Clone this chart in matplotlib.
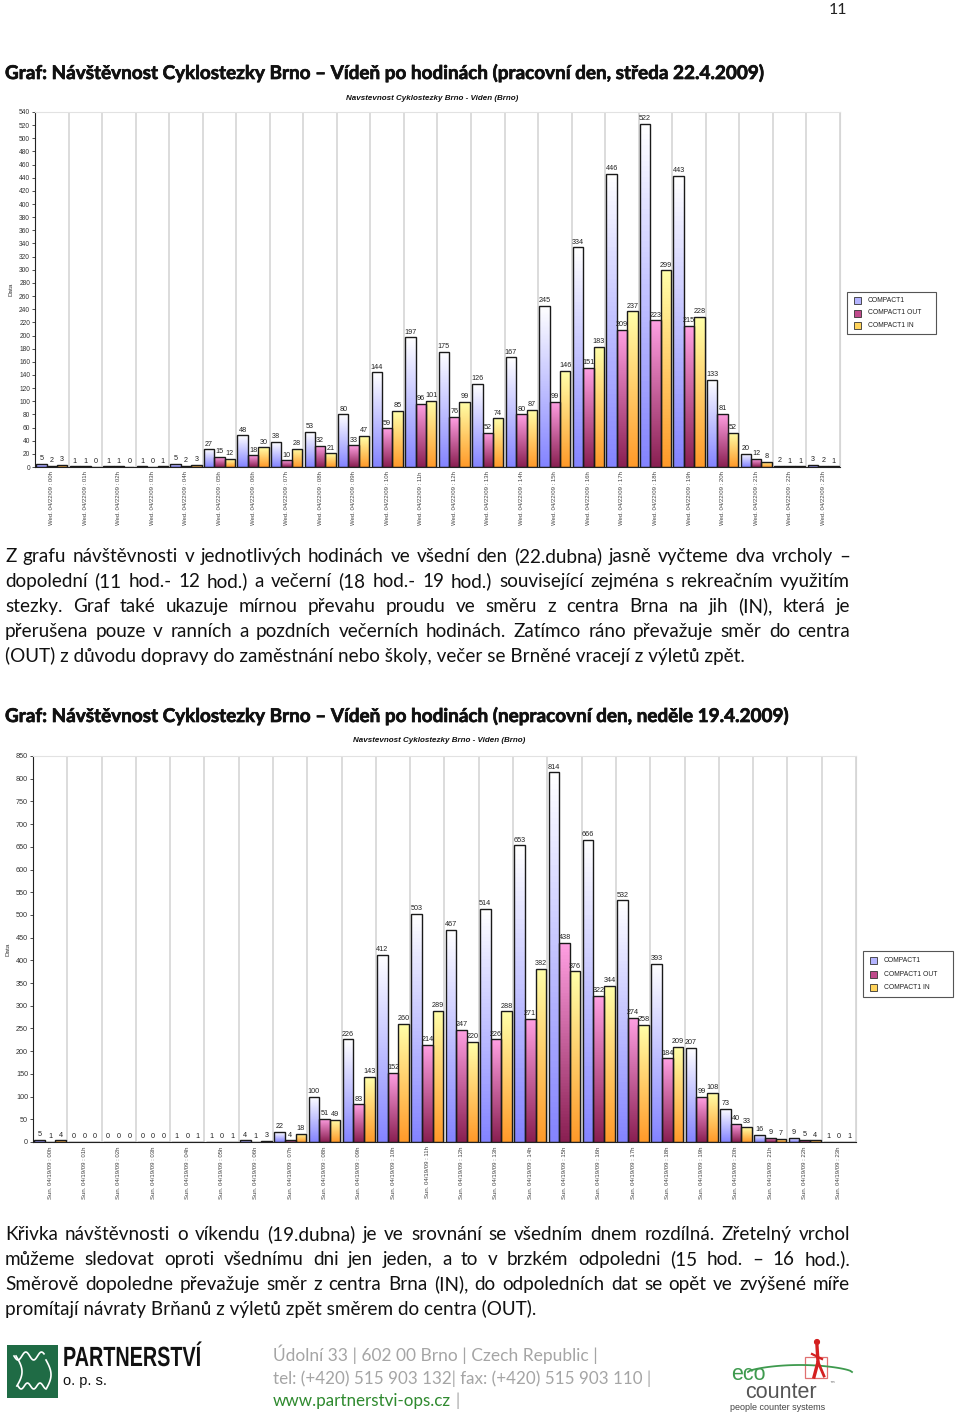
import numpy as np
import matplotlib.pyplot as plt
import matplotlib.patheffects as pe
from matplotlib.colors import LinearSegmentedColormap
from matplotlib.patches import Rectangle
from matplotlib.transforms import Affine2D

# hourly counts (COMPACT1 = total, OUT, IN)
hours = ["%02dh" % h for h in range(24)]
wed_total = [5, 1, 1, 1, 5, 27, 48, 38, 53, 80, 144, 197, 175, 126, 167, 245, 334, 446, 522, 443, 133, 20, 2, 3]
wed_out = [2, 1, 1, 0, 2, 15, 18, 10, 32, 33, 59, 96, 76, 52, 80, 99, 151, 209, 223, 215, 81, 12, 1, 2]
wed_in = [3, 0, 0, 1, 3, 12, 30, 28, 21, 47, 85, 101, 99, 74, 87, 146, 183, 237, 299, 228, 52, 8, 1, 1]
sun_total = [5, 0, 0, 0, 1, 1, 4, 22, 100, 226, 412, 503, 467, 514, 653, 814, 666, 532, 393, 207, 73, 16, 9, 1]
sun_out = [1, 0, 0, 0, 0, 0, 1, 4, 51, 83, 152, 214, 247, 226, 271, 438, 322, 274, 184, 99, 40, 9, 5, 0]
sun_in = [4, 0, 0, 0, 1, 1, 3, 18, 49, 143, 260, 289, 220, 288, 382, 376, 344, 258, 209, 108, 33, 7, 4, 1]
series_names = ["COMPACT1", "COMPACT1 OUT", "COMPACT1 IN"]

chart_title = "Navstevnost Cyklostezky Brno - Viden (Brno)"
heading1 = "Graf: Návštěvnost Cyklostezky Brno – Vídeň po hodinách (pracovní den, středa 22.4.2009)"
heading2 = "Graf: Návštěvnost Cyklostezky Brno – Vídeň po hodinách (nepracovní den, neděle 19.4.2009)"
para1 = [
    "Z grafu návštěvnosti v jednotlivých hodinách ve všední den (22.dubna) jasně vyčteme dva vrcholy –",
    "dopolední (11 hod.- 12 hod.) a večerní (18 hod.- 19 hod.) související zejména s rekreačním využitím",
    "stezky. Graf také ukazuje mírnou převahu proudu ve směru z centra Brna na jih (IN), která je",
    "přerušena pouze v ranních a pozdních večerních hodinách. Zatímco ráno převažuje směr do centra",
    "(OUT) z důvodu dopravy do zaměstnání nebo školy, večer se Brněné vracejí z výletů zpět.",
]
para2 = [
    "Křivka návštěvnosti o víkendu (19.dubna) je ve srovnání se všedním dnem rozdílná. Zřetelný vrchol",
    "můžeme sledovat oproti všednímu dni jen jeden, a to v brzkém odpoledni (15 hod. – 16 hod.).",
    "Směrově dopoledne převažuje směr z centra Brna (IN), do odpoledních dat se opět ve zvýšené míře",
    "promítají návraty Brňanů z výletů zpět směrem do centra (OUT).",
]
address = ["Údolní 33 | 602 00 Brno | Czech Republic |",
           "tel: (+420) 515 903 132| fax: (+420) 515 903 110 |"]
web = "www.partnerstvi-ops.cz"

grad_colors = [("#ffffff", "#8484ff"), ("#ff9fe2", "#8a2052"), ("#ffffa8", "#ff9a2a")]
legend_colors = ["#b4b4ff", "#c04a8c", "#ffd35a"]

W, H = 960, 1414
fig = plt.figure(figsize=(W / 100, H / 100), dpi=100)
page = fig.add_axes([0, 0, 1, 1])
page.set_xlim(0, W)
page.set_ylim(H, 0)
page.axis('off')
rend = fig.canvas.get_renderer()

FONT = 'Lato'


class Squeeze(pe.AbstractPathEffect):
    # narrows glyphs horizontally around x0 (display px), for the condensed logo type
    def __init__(self, sx, x0):
        super().__init__()
        self.sx = sx
        self.x0 = x0

    def draw_path(self, renderer, gc, tpath, affine, rgbFace=None):
        aff = affine + Affine2D().translate(-self.x0, 0).scale(self.sx, 1).translate(self.x0, 0)
        renderer.draw_path(gc, tpath, aff, rgbFace)


def width_of(t):
    return t.get_window_extent(rend).width


def fit_text(x, y, s, target, **kw):
    t = page.text(x, y, s, fontsize=10, va='baseline', **kw)
    t.set_fontsize(10 * target / width_of(t))
    return t


def justify(y, line, x0, x1, size, **kw):
    words = line.split(' ')
    objs = [page.text(0, y, w, fontsize=size, va='baseline', **kw) for w in words]
    widths = [width_of(o) for o in objs]
    gap = (x1 - x0 - sum(widths)) / (len(words) - 1)
    x = x0
    for o, w in zip(objs, widths):
        o.set_x(x)
        x += w + gap


def chart(box, labels_prefix, series, ymax, ystep, legend_box, title_y, tick_size):
    left, top, right, bottom = box
    ax = fig.add_axes([left / W, 1 - bottom / H, (right - left) / W, (bottom - top) / H])
    ax.set_facecolor('none')
    xs = np.arange(24)
    width = 0.31
    grad = np.linspace(0, 1, 64).reshape(-1, 1)
    for k, vals in enumerate(series):
        top_c, bot_c = grad_colors[k]
        cmap = LinearSegmentedColormap.from_list('g%d' % k, [bot_c, top_c])
        bars = ax.bar(xs + (k - 1) * width, vals, width, facecolor='none',
                      edgecolor='#1a1a1a', linewidth=1.0, zorder=3)
        for b, v in zip(bars, vals):
            if v > 0:
                im = ax.imshow(grad, cmap=cmap, origin='lower', aspect='auto', zorder=2,
                               extent=[b.get_x(), b.get_x() + b.get_width(), 0, v])
                im.set_clip_path(b)
            ax.annotate(str(v), (b.get_x() + b.get_width() / 2, v), xytext=(0, 1.2),
                        textcoords='offset points', ha='center', va='bottom',
                        fontsize=5.2, color='#222', family='Liberation Sans')
    ax.set_xlim(-0.5, 23.5)
    ax.set_ylim(0, ymax)
    ax.set_yticks(np.arange(0, ymax + 1, ystep))
    ax.tick_params(axis='y', labelsize=tick_size, length=2.5, width=0.6, pad=1, colors='#333')
    ax.set_xticks(xs)
    ax.set_xticklabels([labels_prefix + h for h in hours], rotation=90, fontsize=4.3,
                       color='#444', family='Liberation Sans')
    ax.tick_params(axis='x', length=0, pad=3)
    for lab in ax.get_yticklabels():
        lab.set_family('Liberation Sans')
    ax.set_xticks(xs + 0.5, minor=True)
    ax.tick_params(axis='x', which='minor', length=0)
    ax.grid(True, which='minor', axis='x', color='#d6d6d6', linewidth=1.2, zorder=0)
    ax.spines['left'].set_color('#222')
    ax.spines['bottom'].set_color('#222')
    ax.spines['top'].set_color('#e2e2e2')
    ax.spines['right'].set_color('#d6d6d6')
    ax.set_ylabel("Data", fontsize=4.6, family='Liberation Sans', labelpad=4, color='#333')
    page.text((left + right) / 2 - 5, title_y, chart_title, ha='center', va='center',
              fontsize=5.8, fontweight='bold', fontstyle='italic', family='Liberation Sans',
              color='#111')
    # legend box
    lx0, ly0, lx1, ly1 = legend_box
    page.add_patch(Rectangle((lx0, ly0), lx1 - lx0, ly1 - ly0, facecolor='white',
                             edgecolor='#555', linewidth=0.8))
    row_h = (ly1 - ly0) / 3.3
    for k, name in enumerate(series_names):
        cy = ly0 + row_h * (k + 0.65)
        page.add_patch(Rectangle((lx0 + 7, cy - 3.5), 7, 7, facecolor=legend_colors[k],
                                 edgecolor='#333', linewidth=0.6))
        page.text(lx0 + 21, cy, name, va='center', fontsize=4.9,
                  family='Liberation Sans', color='#222')
    return ax


# page number and headings
bold_fx = [pe.withStroke(linewidth=0.5, foreground='#111')]
page.text(838, 14, "11", fontsize=11.5, family=FONT, ha='center', va='baseline', color='#222')
h1 = fit_text(5, 79, heading1, 762, family=FONT, fontweight='bold', color='#111')
h1.set_path_effects(bold_fx)
h2 = fit_text(5, 722, heading2, 787, family=FONT, fontweight='bold', color='#111')
h2.set_path_effects(bold_fx)

# body size calibrated on the last (unjustified) line of paragraph 1
last = fit_text(5, 662, para1[-1], 738, family=FONT, color='#111')
body = last.get_fontsize()
for i, line in enumerate(para1[:-1]):
    justify(562 + 25 * i, line, 5, 850, body, family=FONT, color='#111')
for i, line in enumerate(para2):
    if i < len(para2) - 1:
        justify(1240 + 25 * i, line, 5, 850, body, family=FONT, color='#111')
    else:
        page.text(5, 1240 + 25 * i, line, fontsize=body, va='baseline', family=FONT, color='#111')

chart((35, 112, 840, 467), "Wed. 04/22/09 : ", [wed_total, wed_out, wed_in], 540, 20,
      (847, 292, 936, 334), 98, 4.8)
chart((33, 756, 856, 1142), "Sun. 04/19/09 : ", [sun_total, sun_out, sun_in], 850, 50,
      (863, 951, 953, 997), 741, 5.2)

# footer: partner logo
page.add_patch(Rectangle((7, 1345), 51, 53, facecolor='#1f6b45', edgecolor='none'))
t = np.linspace(0, 1, 40)
page.plot(14 + 30 * t, 1356 + 4 * np.sin(t * 12), color='white', lw=1.2)
page.plot(18 + 28 * t, 1386 + 3 * np.sin(t * 14), color='white', lw=1.2)
page.plot(16 + 6 * np.sin(t * 3), 1356 + 30 * t, color='white', lw=1.2)
page.plot(46 + 5 * np.sin(t * 3), 1360 + 28 * t, color='white', lw=1.2)
logo = page.text(63, 1366, "PARTNERSTVÍ", fontsize=20, va='baseline',
                 family='Liberation Sans', fontweight='bold', color='#111')
logo.set_path_effects([Squeeze(138 / width_of(logo), 63)])
page.text(63, 1385, "o. p. s.", fontsize=10.5, va='baseline', family='Liberation Sans',
          color='#111')

# footer: address
for i, line in enumerate(address):
    tt = fit_text(273, 1361 + 23 * i, line, 323 if i == 0 else 377, family=FONT, color='#a5a5a5')
tw = page.text(273, 1406, web, fontsize=tt.get_fontsize(), va='baseline', family=FONT,
               color='#2f8a2f')
page.text(273 + width_of(tw) + 4, 1406, "|", fontsize=tt.get_fontsize(), va='baseline',
          family=FONT, color='#a5a5a5')

# footer: eco counter logo
sx = np.linspace(748, 852, 60)
page.plot(sx, 1372 - 7 * np.sin((sx - 748) / 104 * np.pi) ** 0.6, color='#3e9a4e', lw=1.3)
page.add_patch(Rectangle((805, 1357), 22, 21, facecolor='none', edgecolor='#e07070', lw=0.9))
page.plot([817, 818, 814], [1346, 1362, 1377], color='#d42020', lw=2.4)
page.plot([818, 824], [1362, 1376], color='#d42020', lw=2.0)
page.plot([812, 822], [1354, 1359], color='#d42020', lw=1.6)
page.add_patch(plt.Circle((817, 1342), 2.4, color='#d42020'))
page.text(731, 1380, "eco", fontsize=15.5, family='Liberation Sans', color='#3e9a4e',
          va='baseline')
page.text(745, 1398, "counter", fontsize=15.5, family='Liberation Sans', color='#555',
          va='baseline')
page.text(829, 1386, "™", fontsize=4, family='DejaVu Sans', color='#555', va='baseline')
fit_text(730, 1410, "people counter systems", 95, family='Liberation Sans', color='#444')

fig.savefig("out.png", dpi=100)
